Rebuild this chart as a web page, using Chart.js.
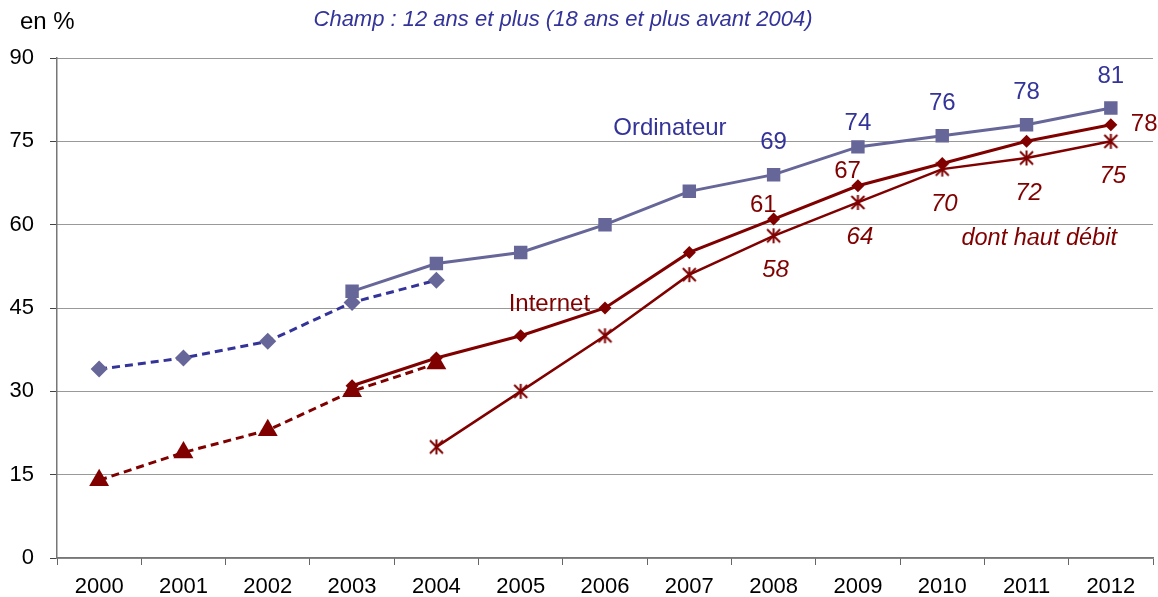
<!DOCTYPE html>
<html>
<head>
<meta charset="utf-8">
<script src="https://cdn.jsdelivr.net/npm/chart.js@4"></script>
<style>
  html, body { margin: 0; padding: 0; background: #fff; }
  #wrap { width: 1158px; height: 597px; }
</style>
</head>
<body>
<div id="wrap"><canvas id="chart" width="1158" height="597"></canvas></div>
<script>
// Valeurs (en %)
const annees = ["2000", "2001", "2002", "2003", "2004", "2005", "2006",
                "2007", "2008", "2009", "2010", "2011", "2012"];
const ordinateurAvant = [34, 36, 39, 46, 50, null, null, null, null, null, null, null, null];
const ordinateur = [null, null, null, 48, 53, 55, 60, 66, 69, 74, 76, 78, 81];
const internetAvant = [14, 19, 23, 30, 35, null, null, null, null, null, null, null, null];
const internet = [null, null, null, 31, 36, 40, 45, 55, 61, 67, 71, 75, 78];
const hautDebit = [null, null, null, null, 20, 30, 40, 51, 58, 64, 70, 72, 75];
const yTicks = [0, 15, 30, 45, 60, 75, 90];

// années dont la valeur est écrite à côté du point
const etiqOrdi = ["2008", "2009", "2010", "2011", "2012"];
const etiqInternet = ["2008", "2009", "2012"];
const etiqHautDebit = ["2008", "2009", "2010", "2011", "2012"];

const bleu = "#333399";
const bleuGris = "#666699";
const rouge = "#800000";
const police = "'Liberation Sans', Arial, sans-serif";

// marqueur étoile façon Excel (x + trait vertical)
function etoile() {
    const c = document.createElement("canvas");
    c.width = 17; c.height = 17;
    const g = c.getContext("2d");
    g.strokeStyle = rouge;
    g.lineWidth = 2;
    g.beginPath();
    g.moveTo(2, 2); g.lineTo(15, 15);
    g.moveTo(15, 2); g.lineTo(2, 15);
    g.moveTo(8.5, 1); g.lineTo(8.5, 16);
    g.stroke();
    return c;
}

const textes = {
    id: "textes",
    afterDatasetsDraw(chart) {
        const ctx = chart.ctx;
        const x = chart.scales.x, y = chart.scales.y;
        const pt = (ds, an) => chart.getDatasetMeta(ds).data[annees.indexOf(an)];
        ctx.save();
        ctx.textBaseline = "middle";

        ctx.font = "24px " + police;
        ctx.fillStyle = bleu;
        ctx.textAlign = "center";
        etiqOrdi.forEach(an => {
            const p = pt(1, an);
            ctx.fillText(ordinateur[annees.indexOf(an)], p.x, p.y - (an === "2009" ? 24 : 32));
        });

        ctx.fillStyle = rouge;
        etiqInternet.forEach(an => {
            const p = pt(3, an);
            const v = internet[annees.indexOf(an)];
            if (an === "2012") {
                ctx.textAlign = "left";
                ctx.fillText(v, p.x + 20, p.y);
            } else {
                ctx.textAlign = "right";
                ctx.fillText(v, p.x + 3, p.y - 14);
            }
        });

        ctx.font = "italic 24px " + police;
        ctx.textAlign = "center";
        etiqHautDebit.forEach(an => {
            const p = pt(4, an);
            ctx.fillText(hautDebit[annees.indexOf(an)], p.x + 2, p.y + 35);
        });

        // noms des séries
        ctx.font = "24px " + police;
        ctx.fillStyle = bleu;
        ctx.fillText("Ordinateur", x.getPixelForValue(6.77), y.getPixelForValue(77.4));
        ctx.fillStyle = rouge;
        ctx.fillText("Internet", x.getPixelForValue(5.34), y.getPixelForValue(45.7));
        ctx.font = "italic 23.5px " + police;
        ctx.fillText("dont haut débit", x.getPixelForValue(11.15), y.getPixelForValue(57.6));
        ctx.restore();
    },
    afterDraw(chart) {
        const ctx = chart.ctx;
        ctx.save();
        ctx.textBaseline = "middle";
        ctx.fillStyle = "#000";
        ctx.font = "24px " + police;
        ctx.textAlign = "left";
        ctx.fillText("en %", 20, 22);
        ctx.fillStyle = bleu;
        ctx.font = "italic 22px " + police;
        ctx.textAlign = "center";
        ctx.fillText("Champ : 12 ans et plus (18 ans et plus avant 2004)", 563, 20);
        ctx.restore();
    }
};

const data = {
    labels: annees,
    datasets: [
        {
            label: "Ordinateur (avant 2004)",
            data: ordinateurAvant,
            borderColor: bleu,
            borderWidth: 3,
            borderDash: [8, 5],
            pointStyle: "rectRot",
            pointRadius: 8.5,
            backgroundColor: bleuGris,
            pointBorderWidth: 0,
            order: 0
        },
        {
            label: "Ordinateur",
            data: ordinateur,
            borderColor: bleuGris,
            borderWidth: 3,
            pointStyle: "rect",
            pointRadius: 9.5,
            backgroundColor: bleuGris,
            pointBorderWidth: 0,
            order: 1
        },
        {
            label: "Internet (avant 2004)",
            data: internetAvant,
            borderColor: rouge,
            borderWidth: 3,
            borderDash: [8, 5],
            pointStyle: "triangle",
            pointRadius: 11.5,
            backgroundColor: rouge,
            pointBorderWidth: 0,
            order: 2
        },
        {
            label: "Internet",
            data: internet,
            borderColor: rouge,
            borderWidth: 3,
            pointStyle: "rectRot",
            pointRadius: 6.5,
            backgroundColor: rouge,
            pointBorderWidth: 0,
            order: 3
        },
        {
            label: "dont haut débit",
            data: hautDebit,
            borderColor: rouge,
            borderWidth: 2.5,
            pointStyle: etoile(),
            backgroundColor: rouge,
            order: 4
        }
    ]
};

const config = {
    type: "line",
    data: data,
    options: {
        responsive: false,
        animation: false,
        spanGaps: false,
        layout: { autoPadding: false, padding: { top: 58, right: 5, left: 0, bottom: 0 } },
        plugins: {
            legend: { display: false },
            tooltip: { enabled: false }
        },
        scales: {
            x: {
                offset: true,
                grid: {
                    offset: true,
                    drawOnChartArea: false,
                    drawTicks: true,
                    tickLength: 7,
                    color: "#666"
                },
                border: { color: "#777", width: 1.5 },
                ticks: {
                    color: "#000",
                    font: { family: police, size: 22 },
                    padding: 9,
                    maxRotation: 0
                },
                afterFit(axis) {
                    axis.height = 39;
                    axis.paddingLeft = 0;
                    axis.paddingRight = 0;
                }
            },
            y: {
                min: 0,
                max: 90,
                afterBuildTicks(axis) { axis.ticks = yTicks.map(v => ({ value: v })); },
                grid: {
                    color: "#333",
                    lineWidth: 1,
                    tickLength: 7,
                    tickColor: "#444"
                },
                // en v4, border.dash s'applique aux lignes de grille
                border: { color: "#777", width: 1.5, dash: [1, 1] },
                ticks: {
                    color: "#000",
                    font: { family: police, size: 22 },
                    padding: 16
                },
                afterFit(axis) {
                    axis.width = 57;
                    axis.paddingTop = 0;
                    axis.paddingBottom = 0;
                }
            }
        }
    },
    plugins: [textes]
};

const chart = new Chart(document.getElementById("chart"), config);
</script>
</body>
</html>
